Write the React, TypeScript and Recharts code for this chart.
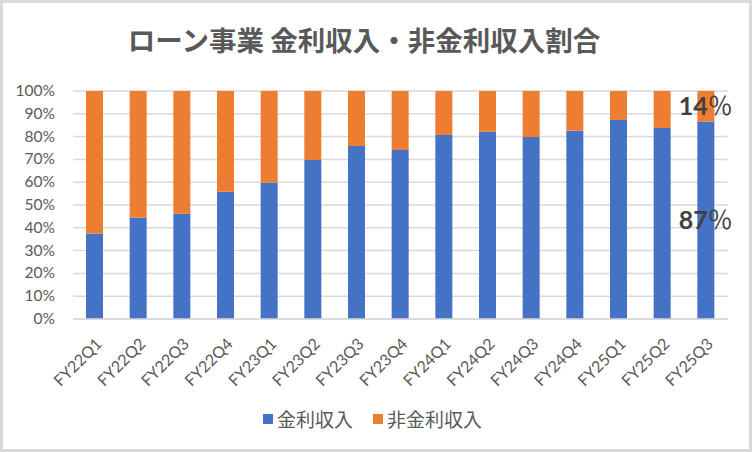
import React from "react";
import { BarChart, Bar, XAxis, YAxis, CartesianGrid, Legend, LabelList } from "recharts";

const categories = ["FY22Q1","FY22Q2","FY22Q3","FY22Q4","FY23Q1","FY23Q2","FY23Q3","FY23Q4","FY24Q1","FY24Q2","FY24Q3","FY24Q4","FY25Q1","FY25Q2","FY25Q3"];
const interestIncome = [37.5, 44.4, 46.2, 55.8, 59.8, 69.7, 75.9, 74.1, 80.7, 82.2, 79.8, 82.6, 87.3, 83.8, 86.6];
const nonInterestIncome = [62.5, 55.6, 53.8, 44.2, 40.2, 30.3, 24.1, 25.9, 19.3, 17.8, 20.2, 17.4, 12.7, 16.2, 13.4];
const interestLabels = ["", "", "", "", "", "", "", "", "", "", "", "", "", "", "87％"];
const nonInterestLabels = ["", "", "", "", "", "", "", "", "", "", "", "", "", "", "14％"];
const yTicks = [0, 10, 20, 30, 40, 50, 60, 70, 80, 90, 100];
const seriesNames = ["金利収入", "非金利収入"];
const colors = ["#4472C4", "#ED7D31"];

const data = categories.map((c, i) => ({
  name: c,
  interest: interestIncome[i],
  nonInterest: nonInterestIncome[i],
  interestLabel: interestLabels[i],
  nonInterestLabel: nonInterestLabels[i],
}));

const tickFont = "Lato, 'Noto Sans', sans-serif";
const jpFont = "'Noto Sans CJK JP', sans-serif";

const renderValueLabel = (props: any) => {
  const { x, y, width, height, value } = props;
  if (!value) return null;
  const s = String(value);
  const num = s.replace("％", "");
  const cx = Number(x) + Number(width) / 2;
  const cy = Number(y) + Number(height) / 2;
  return (
    <text x={cx} y={cy} dy={9} textAnchor="middle" fill="#404040" fontSize={25} fontFamily={tickFont}>
      <tspan fontWeight="bold">{num}</tspan>
      <tspan fontWeight="normal" fontFamily={jpFont} fontSize={25}>％</tspan>
    </text>
  );
};

const XTick = (props: any) => {
  const { x, y, payload } = props;
  const ax = Number(x) + 8;
  const ay = Number(y) + 18;
  return (
    <text x={ax} y={ay} textAnchor="end" fill="#595959" fontSize={16} fontFamily={tickFont} transform={`rotate(-45, ${ax}, ${ay})`}>
      {payload.value}
    </text>
  );
};

const YTick = (props: any) => {
  const { x, y, payload } = props;
  return (
    <text x={Number(x)} y={Number(y)} dy={5} textAnchor="end" fill="#595959" fontSize={15.5} fontFamily={tickFont}>
      {`${payload.value}%`}
    </text>
  );
};

const LegendContent = () => (
  <div style={{ display: "flex", justifyContent: "center", alignItems: "center", fontFamily: jpFont, fontSize: 19, color: "#595959", paddingTop: 6, paddingLeft: 4 }}>
    {seriesNames.map((n, i) => (
      <div key={n} style={{ display: "flex", alignItems: "center", marginLeft: i === 0 ? 0 : 20 }}>
        <span style={{ display: "inline-block", width: 10, height: 10, background: colors[i], marginRight: 4 }} />
        <span>{n}</span>
      </div>
    ))}
  </div>
);

export default function App() {
  return (
    <div style={{ position: "fixed", left: 0, top: 0, width: 752, height: 452, background: "#fff" }}>
      <div style={{ position: "absolute", left: 0, top: 0, width: 752, height: 452, border: "3px solid #D9D9D9", boxSizing: "border-box", pointerEvents: "none", zIndex: 2 }} />
      <div style={{ position: "absolute", left: -12, top: 20, width: 752, textAlign: "center", fontFamily: jpFont, fontWeight: "bold", fontSize: 27.5, color: "#595959", lineHeight: "38px" }}>
        ローン事業 金利収入・非金利収入割合
      </div>
      <BarChart width={752} height={452} data={data} margin={{ top: 91, right: 24, left: 13, bottom: 23 }} barSize={17}>
        <CartesianGrid vertical={false} stroke="#D9D9D9" strokeWidth={1.5} />
        <XAxis dataKey="name" axisLine={{ stroke: "#D9D9D9", strokeWidth: 1.5 }} tickLine={false} height={80} interval={0} tick={<XTick />} />
        <YAxis domain={[0, 100]} ticks={yTicks} interval={0} axisLine={false} tickLine={false} width={60} tickMargin={12} tick={<YTick />} />
        <Legend verticalAlign="bottom" height={30} content={<LegendContent />} />
        <Bar dataKey="interest" stackId="a" fill={colors[0]} name={seriesNames[0]} isAnimationActive={false}>
          <LabelList dataKey="interestLabel" content={renderValueLabel} />
        </Bar>
        <Bar dataKey="nonInterest" stackId="a" fill={colors[1]} name={seriesNames[1]} isAnimationActive={false}>
          <LabelList dataKey="nonInterestLabel" content={renderValueLabel} />
        </Bar>
      </BarChart>
    </div>
  );
}
